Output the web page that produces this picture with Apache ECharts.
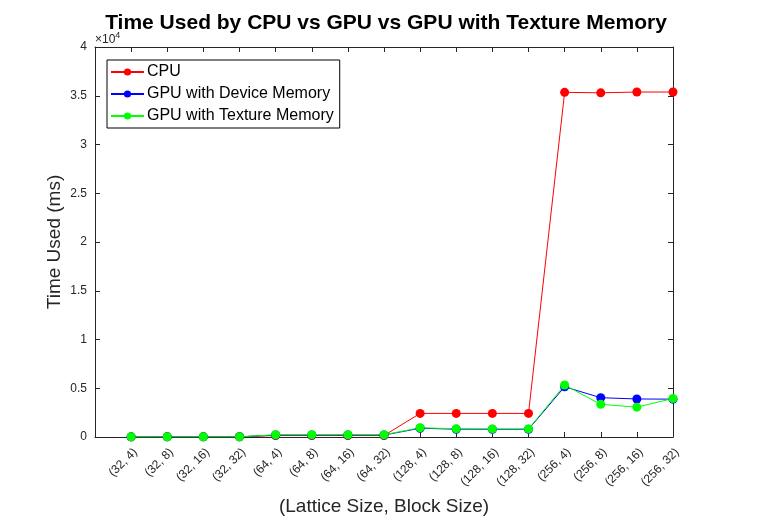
<!DOCTYPE html>
<html><head><meta charset="utf-8">
<script src="https://cdn.jsdelivr.net/npm/echarts@6/dist/echarts.min.js"></script>
<style>html,body{margin:0;padding:0;background:#fff}#c{width:758px;height:525px}</style>
</head><body><div id="c"></div>
<script>
const categories = ['(32, 4)','(32, 8)','(32, 16)','(32, 32)','(64, 4)','(64, 8)','(64, 16)','(64, 32)','(128, 4)','(128, 8)','(128, 16)','(128, 32)','(256, 4)','(256, 8)','(256, 16)','(256, 32)'];
const cpu = [10, 15, 15, 20, 150, 150, 150, 150, 2420, 2420, 2420, 2420, 35350, 35300, 35380, 35380];
const gpuDevice = [15, 15, 15, 20, 200, 200, 200, 200, 900, 800, 790, 790, 5150, 4030, 3900, 3880];
const gpuTexture = [20, 20, 20, 25, 230, 230, 230, 230, 950, 840, 830, 830, 5330, 3350, 3060, 3950];
const yTicks = [0, 5000, 10000, 15000, 20000, 25000, 30000, 35000, 40000];

const FONT = 'Liberation Sans, Arial, sans-serif';
const toPairs = arr => arr.map((v, i) => [i + 1, v]);
const chart = echarts.init(document.getElementById('c'));
const mk = (name, data, color) => ({
  name, type: 'line', data: toPairs(data), xAxisIndex: 0, yAxisIndex: 0,
  symbol: 'circle', symbolSize: 9, lineStyle: {color, width: 1}, itemStyle: {color},
  animation: false
});
const boxAxis = {lineStyle: {color: '#262626', width: 1}, onZero: false};
const tick = {inside: true, length: 5, lineStyle: {color: '#262626'}};
chart.setOption({
  animation: false,
  textStyle: {fontFamily: FONT},
  title: {text: 'Time Used by CPU vs GPU vs GPU with Texture Memory', left: 381, top: 8, textAlign: 'center',
    textStyle: {fontFamily: FONT, fontSize: 21, fontWeight: 'bold', color: '#000'}},
  grid: {left: 95, right: 85, top: 47, bottom: 88, containLabel: false},
  legend: {orient: 'vertical', left: 107, top: 60, itemWidth: 33, itemHeight: 9, itemGap: 6,
    borderColor: '#000', borderWidth: 1, padding: [4, 6, 4, 3], backgroundColor: '#fff',
    textStyle: {fontFamily: FONT, fontSize: 16, color: '#000', padding: [0, 0, 0, -2]},
    data: ['CPU', 'GPU with Device Memory', 'GPU with Texture Memory']},
  graphic: [{type: 'text', left: 95, top: 31, style: {
    text: '{a|×10}{b|4}', rich: {a: {fontSize: 12, fontFamily: FONT, fill: '#262626'}, b: {fontSize: 9, fontFamily: FONT, fill: '#262626', verticalAlign: 'top', padding: [0,0,8,0]}}}}],
  xAxis: [
    {type: 'value', min: 0, max: 16, interval: 1, position: 'bottom',
     name: '(Lattice Size, Block Size)', nameLocation: 'middle', nameGap: 60, nameMoveOverlap: false,
     nameTextStyle: {fontFamily: FONT, fontSize: 19, color: '#262626'},
     axisLine: boxAxis, axisTick: tick, splitLine: {show: false},
     axisLabel: {rotate: 45, fontSize: 12, color: '#262626', fontFamily: FONT, margin: 9,
       align: 'right', verticalAlign: 'top',
       formatter: v => (v >= 1 && v <= 16) ? categories[v - 1] : ''}},
    {type: 'value', min: 0, max: 16, interval: 1, position: 'top',
     axisLine: boxAxis, axisTick: tick, splitLine: {show: false}, axisLabel: {show: false}}
  ],
  yAxis: [
    {type: 'value', min: 0, max: 40000, interval: 5000, position: 'left',
     name: 'Time Used (ms)', nameLocation: 'middle', nameGap: 31, nameMoveOverlap: false,
     nameTextStyle: {fontFamily: FONT, fontSize: 19, color: '#262626'},
     axisLine: Object.assign({show: true}, boxAxis), axisTick: Object.assign({show: true}, tick),
     splitLine: {show: false},
     axisLabel: {fontSize: 12, color: '#262626', fontFamily: FONT, margin: 8,
       formatter: v => yTicks.includes(v) ? String(v / 10000) : ''}},
    {type: 'value', min: 0, max: 40000, interval: 5000, position: 'right',
     axisLine: Object.assign({show: true}, boxAxis), axisTick: Object.assign({show: true}, tick),
     splitLine: {show: false}, axisLabel: {show: false}}
  ],
  series: [
    mk('CPU', cpu, '#ff0000'),
    mk('GPU with Device Memory', gpuDevice, '#0000ff'),
    mk('GPU with Texture Memory', gpuTexture, '#00ff00')
  ]
});
</script></body></html>
